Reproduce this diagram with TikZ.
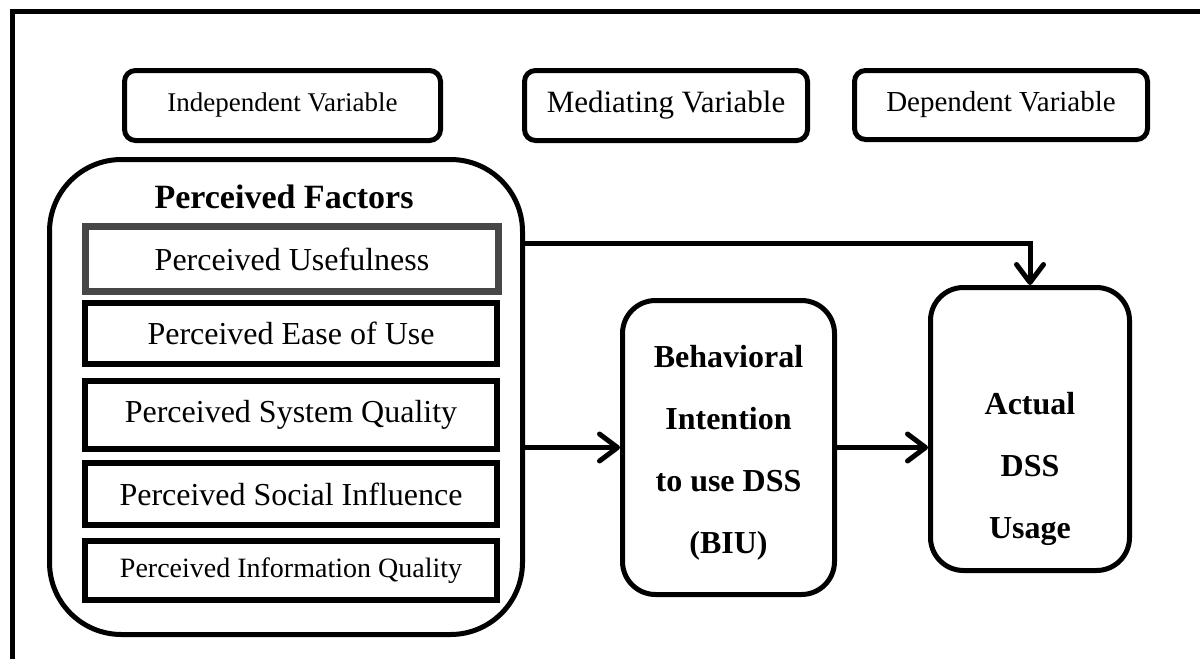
\documentclass[tikz,border=0pt]{standalone}
\usepackage{fontspec}
\setmainfont{Liberation Serif}
\usetikzlibrary{arrows.meta}

\begin{document}
\begin{tikzpicture}[x=1pt, y=-1pt,
		varbox/.style={draw, line width=5pt, rounded corners=11pt, inner sep=0pt},
		factorbox/.style={draw, line width=5.5pt, inner sep=0pt, minimum width=412pt, font=\fontsize{32}{38}\selectfont},
		bigbox/.style={draw, line width=5pt, inner sep=0pt},
		headtxt/.style={font=\bfseries\fontsize{32}{62}\selectfont, align=center},
		flow/.style={line width=5pt, -{Straight Barb[length=18pt,width=27pt,round]}}]
	\useasboundingbox (0,0) rectangle (1200,659);
	\draw[line width=5.5pt] (12.5,659) -- (12.5,11.5) -- (1200,11.5);
	\node[varbox, minimum width=316pt, minimum height=70pt, font=\fontsize{27}{32}\selectfont] (indep) at (282.5,105.5) {Independent Variable};
	\node[varbox, minimum width=283pt, minimum height=70pt, font=\fontsize{31}{36}\selectfont] (mediat) at (666,105.5) {Mediating Variable};
	\node[varbox, minimum width=293pt, minimum height=69pt, font=\fontsize{29}{34}\selectfont] (depend) at (1001,105) {Dependent Variable};
	\node[bigbox, rounded corners=72pt, minimum width=473pt, minimum height=475pt] (factors) at (286,397) {};
	\node[font=\bfseries\fontsize{34}{40}\selectfont] (factorstitle) at (284,197) {Perceived Factors};
	\node[factorbox, draw=black!72, line width=7pt, minimum width=413pt, minimum height=65pt] (useful) at (292,259) {Perceived Usefulness};
	\node[factorbox, minimum height=61pt] (ease) at (291,333.5) {Perceived Ease of Use};
	\node[factorbox, minimum height=68pt] (system) at (291,415) {Perceived System Quality};
	\node[factorbox, minimum height=62pt] (social) at (291,494) {Perceived Social Influence};
	\node[factorbox, minimum height=59pt, font=\fontsize{28}{34}\selectfont] (info) at (291,570.5) {Perceived Information Quality};
	\node[bigbox, rounded corners=33pt, minimum width=212pt, minimum height=294pt] (biu) at (728.5,447.5) {};
	\node[headtxt] (biutxt) at (728.5,453) {Behavioral\\Intention\\to use DSS\\(BIU)};
	\node[bigbox, rounded corners=33pt, minimum width=199pt, minimum height=283pt] (actual) at (1030,429) {};
	\node[headtxt] (actualtxt) at (1030,469) {Actual\\DSS\\Usage};
	\coordinate (topbend) at (1031,243);
	\draw[flow] (factors.east |- topbend) -| (actual.north);
	\draw[flow] (factors.east |- biu) -- (biu.west);
	\draw[flow] (biu.east) -- (biu.east -| actual.west);
\end{tikzpicture}
\end{document}
